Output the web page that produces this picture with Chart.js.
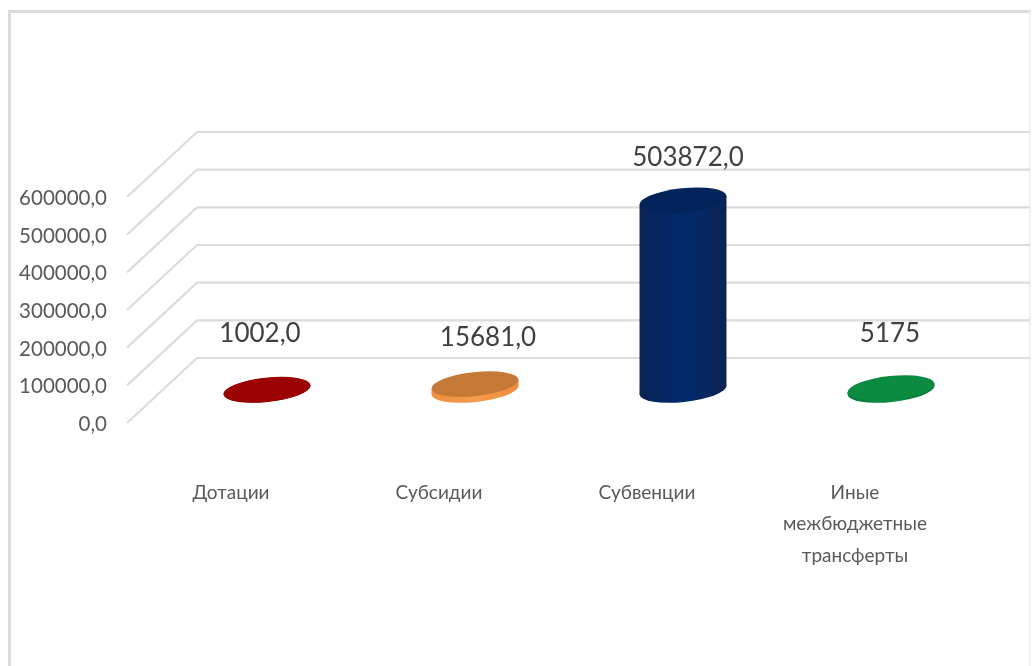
<!DOCTYPE html>
<html>
<head>
<meta charset="utf-8">
<script src="https://cdn.jsdelivr.net/npm/chart.js@4"></script>
<style>
html,body{margin:0;padding:0;background:#fff;overflow:hidden}
#frame{position:absolute;left:8px;top:10px;width:1023px;height:670px;border:3px solid #dcdcdc;border-right:2px solid #f2f2f2;box-sizing:border-box}
#c{position:absolute;left:0;top:0}
</style>
</head>
<body>
<div id="frame"></div>
<canvas id="c" width="1036" height="666"></canvas>
<script>
const categories=["Дотации","Субсидии","Субвенции",["Иные","межбюджетные","трансферты"]]
const values=[1002,15681,503872,5175]
const valueLabels=["1002,0","15681,0","503872,0","5175"]
const yTicks=[0,100000,200000,300000,400000,500000,600000]
const topColors=["#9b0303","#c47a36","#03245a","#0b8a42"]
const sideEdge=["#7d0000","#f08c3e","#0a2355","#08763a"]
const sideMid=["#9b0303","#f59a4c","#022a6c","#0b8a42"]
const labelShift=[[-7,-56],[13,-46],[5,-43],[-1,-54]]

// 3d look: floor depth and tilt of the ellipses
const backDx=70, backDy=-65
const midDx=36, midDy=-33
const fontName='Lato, "Open Sans", "Liberation Sans", sans-serif'

const cylinders={
id:"cylinders",
beforeDatasetsDraw(chart){
const ctx=chart.ctx
const y=chart.scales.y
const a=chart.chartArea

// walls first
ctx.save()
ctx.strokeStyle="#dcdcdc"
ctx.lineWidth=2.2
yTicks.forEach(t=>{
const py=y.getPixelForValue(t)
ctx.beginPath()
ctx.moveTo(a.left,py)
ctx.lineTo(a.left+backDx,py+backDy)
ctx.lineTo(a.right+backDx+1,py+backDy)
ctx.stroke()
})
ctx.restore()

const meta=chart.getDatasetMeta(0)
meta.data.forEach((bar,i)=>{
const cx=bar.x+midDx
const top=bar.y+midDy
const base=bar.base+midDy
const hw=bar.width/2
const rx=hw*1.005, ry=12, rot=-6*Math.PI/180
const off=(rx*rx-ry*ry)*Math.sin(-rot)*Math.cos(rot)/hw

const g=ctx.createLinearGradient(cx-hw,0,cx+hw,0)
g.addColorStop(0,sideEdge[i])
g.addColorStop(0.5,sideMid[i])
g.addColorStop(1,sideEdge[i])

ctx.save()
ctx.fillStyle=g
ctx.beginPath()
ctx.ellipse(cx,base,rx,ry,rot,0,Math.PI*2)
ctx.fill()
ctx.beginPath()
ctx.moveTo(cx-hw,top+off)
ctx.lineTo(cx+hw,top-off)
ctx.lineTo(cx+hw,base-off)
ctx.lineTo(cx-hw,base+off)
ctx.closePath()
ctx.fill()
ctx.fillStyle=topColors[i]
ctx.beginPath()
ctx.ellipse(cx,top,rx,ry,rot,0,Math.PI*2)
ctx.fill()

ctx.fillStyle="#404040"
ctx.font='26px '+fontName
ctx.textAlign="center"
ctx.textBaseline="middle"
ctx.fillText(valueLabels[i],cx+labelShift[i][0],top+labelShift[i][1])
ctx.restore()
})
return false
}
}

new Chart(document.getElementById("c"),{
type:"bar",
data:{labels:categories,datasets:[{data:values,backgroundColor:topColors,barPercentage:0.418,categoryPercentage:1}]},
options:{
responsive:false,
animation:false,
layout:{padding:{left:0,top:197,right:77,bottom:0}},
plugins:{legend:{display:false},tooltip:{enabled:false}},
scales:{
x:{
grid:{display:false},
border:{display:false},
afterFit(s){s.height=243},
ticks:{color:"#595959",padding:46,maxRotation:0,autoSkip:false,font:{family:fontName,size:19,lineHeight:1.66}}
},
y:{
min:0,
max:600000,
grid:{display:false,drawTicks:false},
border:{display:false},
afterFit(s){s.width=127},
afterBuildTicks(s){s.ticks=yTicks.map(v=>({value:v}))},
ticks:{color:"#595959",padding:20,labelOffset:1.5,font:{family:fontName,size:20.5},callback:v=>v.toFixed(1).replace(".",",")}
}
}
},
plugins:[cylinders]
})
</script>
</body>
</html>
